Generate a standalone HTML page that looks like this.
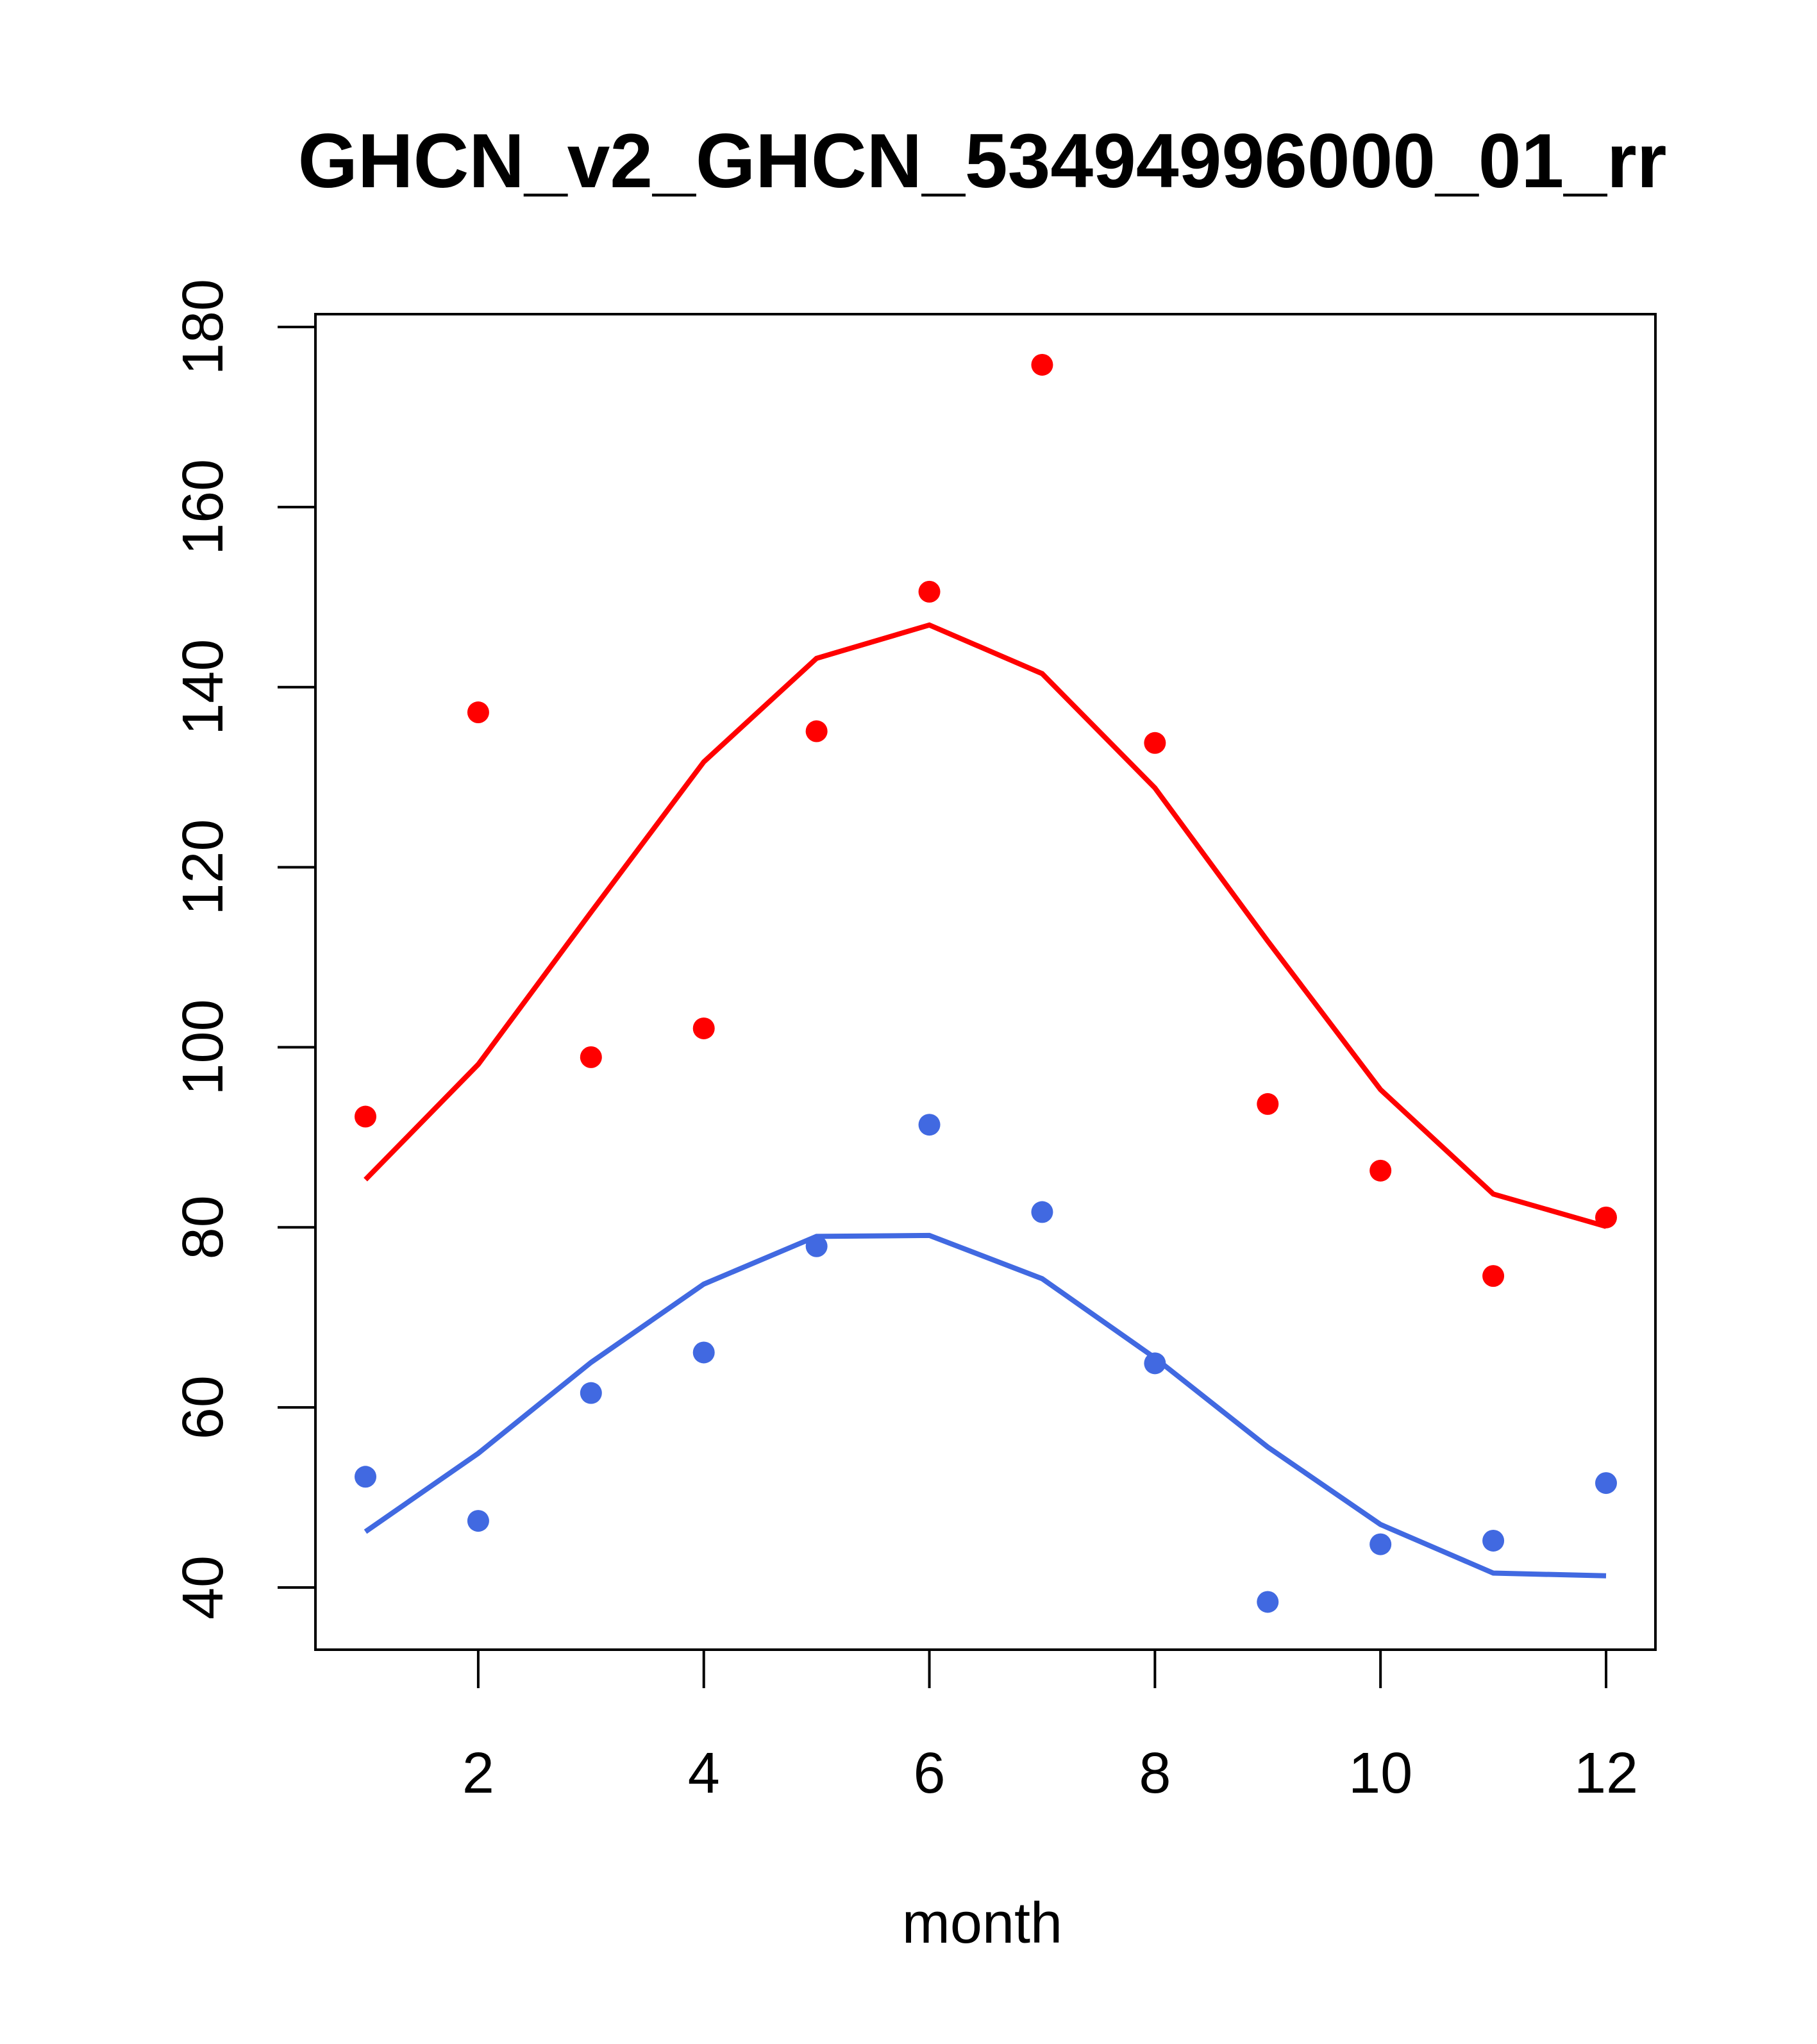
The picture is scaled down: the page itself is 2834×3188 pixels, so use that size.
<!DOCTYPE html>
<html><head><meta charset="utf-8"><style>html,body{margin:0;padding:0;background:#fff}svg{display:block}</style></head>
<body>
<svg id="chart" xmlns="http://www.w3.org/2000/svg" width="2834" height="3188" viewBox="0 0 2834 3188" font-family="'Liberation Sans', Arial, sans-serif">
<rect width="2834" height="3188" fill="#fff"/>
<text x="1532" y="292" font-size="120" font-weight="bold" text-anchor="middle">GHCN_v2_GHCN_53494996000_01_rr</text>
<rect x="492" y="490" width="2090" height="2083" fill="none" stroke="#000" stroke-width="4"/>
<text x="1532" y="3030" font-size="90" text-anchor="middle">month</text>
<g id="axes"></g>
<g id="series"></g>
</svg>
<script>
const months=[1,2,3,4,5,6,7,8,9,10,11,12];
const redPoints=[92.3,137.2,98.9,102.1,135.1,150.6,175.8,133.8,93.7,86.3,74.6,81.1];
const redLine=[85.3,98.1,115,131.7,143.2,146.9,141.5,128.8,111.8,95.3,83.7,80.1];
const bluePoints=[52.3,47.4,61.6,66.1,77.9,91.4,81.7,64.9,38.4,44.8,45.2,51.6];
const blueLine=[46.2,54.9,65,73.7,79,79.1,74.3,65.5,55.6,47,41.6,41.3];
const xTicks=[2,4,6,8,10,12];
const yTicks=[40,60,80,100,120,140,160,180];
const NS='http://www.w3.org/2000/svg';
function X(m){return 570+(m-1)*(2505-570)/11;}
function Y(v){return 2476-(v-40)*(2476-510)/140;}
function mk(tag,attrs,parent){const e=document.createElementNS(NS,tag);for(const k in attrs)e.setAttribute(k,attrs[k]);parent.appendChild(e);return e;}
const axes=document.getElementById('axes'),ser=document.getElementById('series');
let p=mk('path',{d:'M'+X(xTicks[0])+' 2573H'+X(xTicks[xTicks.length-1]),stroke:'#000','stroke-width':4,fill:'none'},axes);


xTicks.forEach(t=>{
 const l=mk('line',{x1:X(t),x2:X(t),y1:2573,y2:2633,stroke:'#000','stroke-width':4},axes);
 
 
 const tx=mk('text',{x:X(t),y:2796,'font-size':90,'text-anchor':'middle'},axes);tx.textContent=t;
 
 
});
p=mk('path',{d:'M492 '+Y(yTicks[0])+'V'+Y(yTicks[yTicks.length-1]),stroke:'#000','stroke-width':4,fill:'none'},axes);


yTicks.forEach(t=>{
 const l=mk('line',{x1:433,x2:492,y1:Y(t),y2:Y(t),stroke:'#000','stroke-width':4},axes);
 
 
 const tx=mk('text',{x:0,y:0,'font-size':90,'text-anchor':'middle',transform:'translate(347,'+Y(t)+') rotate(-90)'},axes);tx.textContent=t;
 
 
});
function line(vals,color,name){
 const d=vals.map((v,i)=>(i?'L':'M')+X(months[i])+' '+Y(v)).join('');
 const e=mk('path',{d:d,stroke:color,'stroke-width':8,fill:'none'},ser);
 
 
}
function pts(vals,color,name){
 vals.forEach((v,i)=>{
  const c=mk('circle',{cx:X(months[i]),cy:Y(v),r:17,fill:color},ser);
  
  
 });
}
line(redLine,'#ff0000','red-line');
line(blueLine,'#4169e1','blue-line');
pts(redPoints,'#ff0000','red-point');
pts(bluePoints,'#4169e1','blue-point');
</script>
</body></html>
